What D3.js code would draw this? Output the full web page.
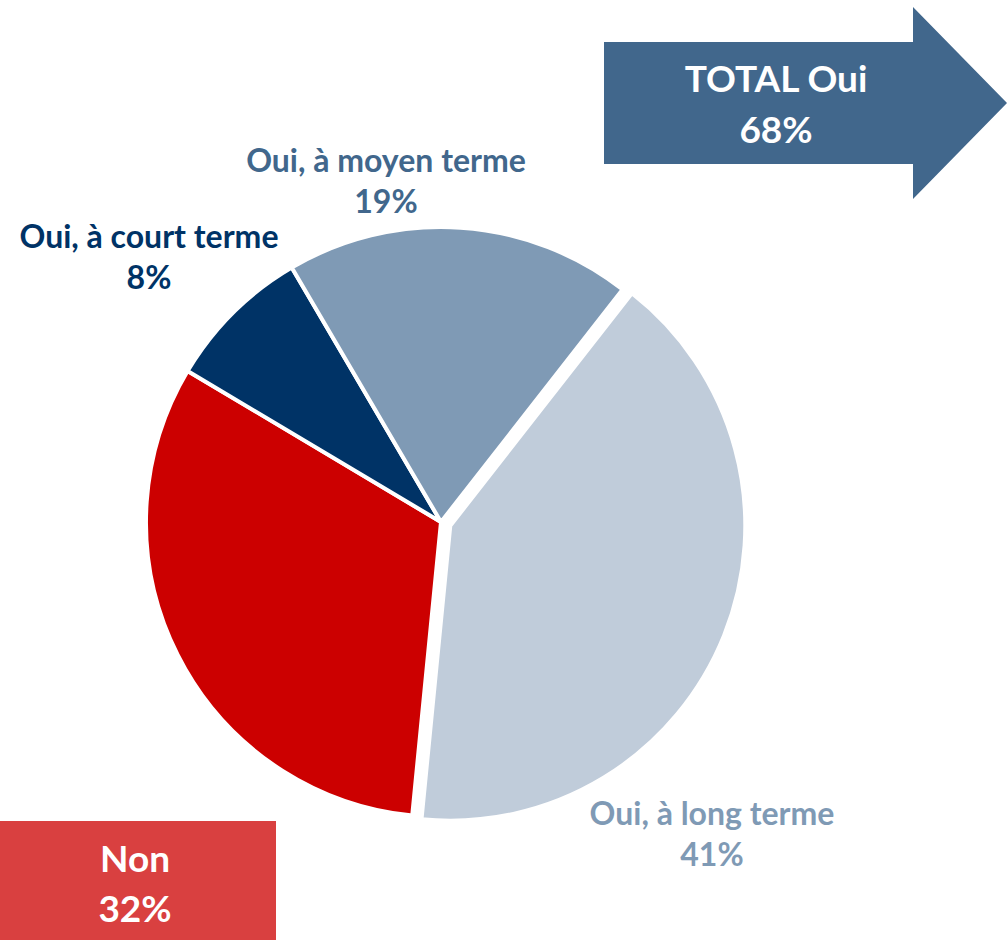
<!DOCTYPE html>
<html>
<head>
<meta charset="utf-8">
<script src="https://cdn.jsdelivr.net/npm/d3@7"></script>
<style>
  body { margin: 0; background: #fff; }
  text { font-family: Lato, "Open Sans", sans-serif; font-weight: bold; }
</style>
</head>
<body>
<script>
// slice data, in drawing order (clockwise from the top-right)
var categories = ["Oui, à long terme", "Non", "Oui, à court terme", "Oui, à moyen terme"];
var values = [41, 32, 8, 19];
var sliceColors = ["#C0CCDA", "#CC0000", "#003366", "#7F9AB5"];
var labelColors = ["#7F9AB5", null, "#003366", "#41678C"];
var exploded = [true, false, false, false];

var totalOui = 68, totalNon = 32;

var width = 1007, height = 940;
var cx = 441, cy = 522, r = 295;

var svg = d3.select("body").append("svg").attr("width", width).attr("height", height);

var pie = d3.pie().sort(null).value(function(d){ return d; })
            .startAngle(38 * Math.PI / 180).endAngle(398 * Math.PI / 180);
var arc = d3.arc().innerRadius(0).outerRadius(r);
var arcs = pie(values);

var g = svg.append("g").attr("transform", "translate(" + cx + "," + cy + ")");

g.selectAll("path")
  .data(arcs)
  .enter().append("path")
    .attr("d", arc)
    .attr("fill", function(d,i){ return sliceColors[i]; })
    .attr("stroke", "#fff")
    .attr("stroke-width", 4)
    .attr("stroke-linejoin", "round")
    .attr("transform", function(d,i){
      if (!exploded[i]) return null;
      var a = (d.startAngle + d.endAngle) / 2;
      return "translate(" + (10 * Math.sin(a)) + "," + (-10 * Math.cos(a)) + ")";
    });

// labels outside the pie (Non gets its own box)
var labelPos = [[712, 825], null, [149, 248], [386, 172]];
arcs.forEach(function(d,i){
  if (!labelPos[i]) return;
  var t = svg.append("text")
    .attr("text-anchor", "middle")
    .attr("font-size", 32)
    .attr("fill", labelColors[i]);
  t.append("tspan").attr("x", labelPos[i][0]).attr("y", labelPos[i][1]).text(categories[i]);
  t.append("tspan").attr("x", labelPos[i][0]).attr("y", labelPos[i][1] + 41).text(values[i] + "%");
});

// TOTAL Oui arrow
svg.append("path")
  .attr("d", "M604,42 L913,42 L913,7 L1007,103 L913,199 L913,164 L604,164 Z")
  .attr("fill", "#41678C");
var tOui = svg.append("text").attr("text-anchor", "middle").attr("font-size", 37).attr("fill", "#fff");
tOui.append("tspan").attr("x", 776).attr("y", 92).text("TOTAL Oui");
tOui.append("tspan").attr("x", 776).attr("y", 143).text(totalOui + "%");

// Non box
svg.append("rect").attr("x", 0).attr("y", 821).attr("width", 276).attr("height", 119).attr("fill", "#D94040");
var tNon = svg.append("text").attr("text-anchor", "middle").attr("font-size", 37).attr("fill", "#fff");
tNon.append("tspan").attr("x", 135).attr("y", 872).text("Non");
tNon.append("tspan").attr("x", 135).attr("y", 922).text(totalNon + "%");
</script>
</body>
</html>
